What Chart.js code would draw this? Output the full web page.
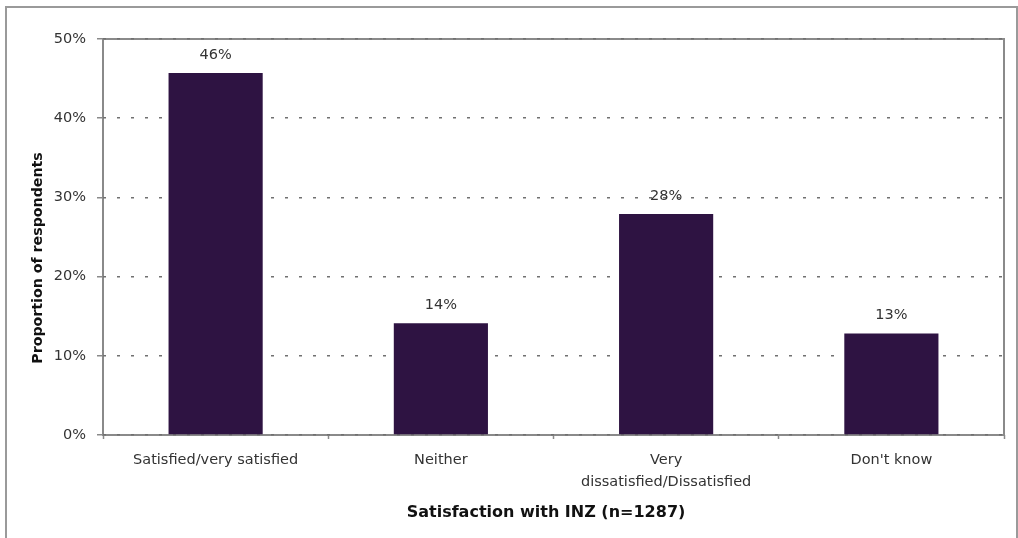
<!DOCTYPE html>
<html>
<head>
<meta charset="utf-8">
<script src="https://cdn.jsdelivr.net/npm/chart.js@4/dist/chart.umd.min.js"></script>
<style>
  html, body { margin: 0; padding: 0; background: #ffffff; }
  #c { display: block; }
</style>
</head>
<body>
<canvas id="c" width="1018" height="538"></canvas>
<script>
const categories = [
  "Satisfied/very satisfied",
  "Neither",
  ["Very", "dissatisfied/Dissatisfied"],
  "Don't know"
];
const proportions = [45.7, 14.1, 27.9, 12.8];
const yTickValues = [0, 10, 20, 30, 40, 50];
const xAxisTitle = "Satisfaction with INZ (n=1287)";
const yAxisTitle = "Proportion of respondents";

const FONT = "'DejaVu Sans', sans-serif";

const framePlugin = {
  id: 'frame',
  beforeDraw(chart) {
    const ctx = chart.ctx;
    const a = chart.chartArea;
    ctx.save();
    ctx.fillStyle = '#ffffff';
    ctx.fillRect(0, 0, chart.width, chart.height);
    ctx.strokeStyle = '#9a9a9a';
    ctx.lineWidth = 2;
    ctx.strokeRect(6, 7, 1011, 560);
    ctx.strokeStyle = '#8a8a8a';
    ctx.lineWidth = 2;
    ctx.strokeRect(a.left, a.top, a.right - a.left, a.bottom - a.top);
    ctx.restore();
  }
};

const labelPlugin = {
  id: 'valueLabels',
  afterDatasetsDraw(chart) {
    const ctx = chart.ctx;
    const meta = chart.getDatasetMeta(0);
    const data = chart.data.datasets[0].data;
    ctx.save();
    ctx.font = "14.5px " + FONT;
    ctx.fillStyle = '#333333';
    ctx.textAlign = 'center';
    ctx.textBaseline = 'middle';
    meta.data.forEach((bar, i) => {
      ctx.fillText(Math.round(data[i]) + '%', bar.x, bar.y - 18);
    });
    ctx.restore();
  }
};

const titlePlugin = {
  id: 'axisTitles',
  afterDraw(chart) {
    const ctx = chart.ctx;
    ctx.save();
    ctx.fillStyle = '#111111';
    ctx.textAlign = 'center';
    ctx.textBaseline = 'middle';
    ctx.font = "bold 16px " + FONT;
    ctx.fillText(xAxisTitle, 546, 513);
    ctx.translate(38, 258);
    ctx.rotate(-Math.PI / 2);
    ctx.font = "bold 14.2px " + FONT;
    ctx.fillText(yAxisTitle, 0, 0);
    ctx.restore();
  }
};

new Chart(document.getElementById('c'), {
  type: 'bar',
  data: {
    labels: categories,
    datasets: [{
      data: proportions,
      backgroundColor: '#2E1342',
      borderWidth: 0,
      barPercentage: 0.418,
      categoryPercentage: 1.0
    }]
  },
  options: {
    responsive: false,
    devicePixelRatio: 1,
    animation: false,
    layout: { padding: { top: 39, right: 14, left: 0, bottom: 0 } },
    plugins: {
      legend: { display: false },
      tooltip: { enabled: false },
      title: { display: false }
    },
    scales: {
      x: {
        type: 'category',
        offset: true,
        border: { display: false },
        grid: {
          offset: true,
          drawOnChartArea: false,
          drawTicks: true,
          tickLength: 4,
          tickColor: '#8a8a8a',
          tickWidth: 1.5
        },
        ticks: {
          autoSkip: false,
          maxRotation: 0,
          minRotation: 0,
          padding: 10,
          color: '#333333',
          font: { family: FONT, size: 14.5, lineHeight: 1.52 }
        },
        afterFit(scale) { scale.height = 103; }
      },
      y: {
        min: 0,
        max: 50,
        border: { display: false, dash: [3, 11] },
        grid: {
          color: '#707070',
          lineWidth: 1.5,
          drawTicks: true,
          tickLength: 6,
          tickColor: '#8a8a8a',
          tickWidth: 1.5
        },
        afterBuildTicks(scale) {
          scale.ticks = yTickValues.map(v => ({ value: v }));
        },
        ticks: {
          padding: 11,
          color: '#333333',
          font: { family: FONT, size: 14.5 },
          callback: v => v + '%'
        },
        afterFit(scale) { scale.width = 103; }
      }
    }
  },
  plugins: [framePlugin, labelPlugin, titlePlugin]
});
</script>
</body>
</html>
